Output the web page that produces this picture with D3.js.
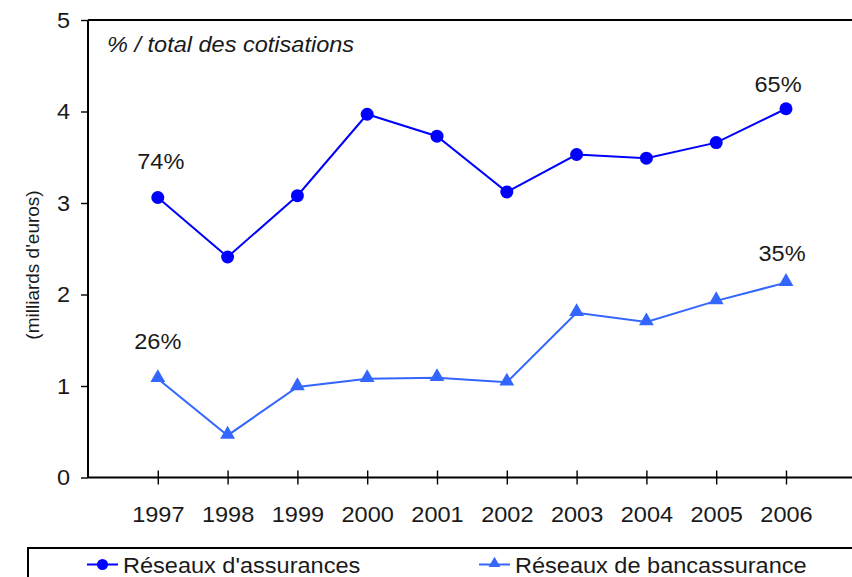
<!DOCTYPE html>
<html>
<head>
<meta charset="utf-8">
<script src="https://cdn.jsdelivr.net/npm/d3@7"></script>
<style>
  html, body { margin: 0; padding: 0; background: #fff; }
  svg { display: block; font-family: "Liberation Sans", Arial, sans-serif; }
</style>
</head>
<body>
<svg id="chart" width="852" height="577"></svg>
<script>
// Cotisations par réseau de distribution (milliards d'euros)
const years = [1997, 1998, 1999, 2000, 2001, 2002, 2003, 2004, 2005, 2006];
const assurances = [3.06, 2.41, 3.08, 3.97, 3.73, 3.12, 3.53, 3.49, 3.66, 4.03];
const bancassurance = [1.08, 0.46, 0.99, 1.08, 1.09, 1.04, 1.80, 1.70, 1.93, 2.13];
const yTicks = [0, 1, 2, 3, 4, 5];
const seriesNames = ["Réseaux d'assurances", "Réseaux de bancassurance"];
const shareLabels = [
  { series: 0, year: 1997, text: "74%" },
  { series: 0, year: 2006, text: "65%" },
  { series: 1, year: 1997, text: "26%" },
  { series: 1, year: 2006, text: "35%" }
];

const colors = ["#0000ff", "#3366ff"];
const seriesData = [assurances, bancassurance];
const stretch = 1.07;   // slightly widened lettering
const fs = 22;

const svg = d3.select("#chart");
const plotL = 88, plotT = 20, plotB = 477.5, plotR = 852;

const x = d3.scaleLinear().domain([1996, 2007]).range([plotL, plotL + 11 * 69.8]);
const y = d3.scaleLinear().domain([0, 5]).range([plotB, plotT]);

// Axes
const xAxis = d3.axisBottom(x).tickValues(years).tickSize(7).tickFormat(d3.format("d"));
const gx = svg.append("g").attr("transform", `translate(0,${plotB})`).call(xAxis);
gx.select(".domain").attr("d", `M${plotL},0H${plotR}`);
gx.selectAll(".tick line").attr("y1", -7).attr("y2", 7).attr("stroke", "#000").attr("stroke-width", 1.4);
gx.selectAll(".tick text").attr("y", 0).attr("dy", 0)
  .attr("transform", `translate(0,44) scale(${stretch},1)`)
  .attr("font-size", fs).attr("fill", "#1a1a1a");

const yAxis = d3.axisLeft(y).tickValues(yTicks).tickSize(7).tickFormat(d3.format("d"));
const gy = svg.append("g").attr("transform", `translate(${plotL},0)`).call(yAxis);
gy.select(".domain").attr("d", `M0,${plotB}V${plotT}`);
gy.selectAll(".tick line").attr("stroke", "#000").attr("stroke-width", 1.4);
gy.selectAll(".tick text").attr("x", 0)
  .attr("transform", `translate(-18,0) scale(${stretch},1)`)
  .attr("font-size", fs).attr("fill", "#1a1a1a");

[gx, gy].forEach(g => {
  g.attr("font-family", null);
  g.select(".domain").attr("stroke", "#000").attr("stroke-width", 2);
});

// Top frame line
svg.append("line").attr("x1", plotL).attr("x2", plotR).attr("y1", plotT).attr("y2", plotT)
  .attr("stroke", "#000").attr("stroke-width", 2);

// Y axis title
svg.append("text")
  .attr("transform", `translate(39,265) rotate(-90)`)
  .attr("text-anchor", "middle")
  .attr("font-size", 19).attr("fill", "#1a1a1a")
  .text("(milliards d'euros)");

// Subtitle inside the plot
svg.append("text")
  .attr("transform", `translate(107,52) scale(${stretch},1)`)
  .attr("font-size", fs).attr("font-style", "italic").attr("fill", "#1a1a1a")
  .text("% / total des cotisations");

const line = d3.line().x((d, i) => x(years[i])).y(d => y(d));
const tri = d3.symbol().type(d3.symbolTriangle).size(95);

seriesData.forEach((vals, s) => {
  svg.append("path").datum(vals)
    .attr("d", line).attr("fill", "none")
    .attr("stroke", colors[s]).attr("stroke-width", 2);
  if (s === 0) {
    svg.selectAll(null).data(vals).join("circle")
      .attr("cx", (d, i) => x(years[i])).attr("cy", d => y(d))
      .attr("r", 6.5).attr("fill", colors[s]);
  } else {
    svg.selectAll(null).data(vals).join("path")
      .attr("d", tri)
      .attr("transform", (d, i) => `translate(${x(years[i])},${y(d) - 1})`)
      .attr("fill", colors[s]);
  }
});

// Share labels near the first and last points
const labelOffset = { "74%": [3, -29], "65%": [-8, -17], "26%": [0, -30], "35%": [-4, -22] };
svg.selectAll(null).data(shareLabels).join("text")
  .attr("transform", d => {
    const px = x(d.year) + labelOffset[d.text][0];
    const py = y(seriesData[d.series][years.indexOf(d.year)]) + labelOffset[d.text][1];
    return `translate(${px},${py}) scale(${stretch},1)`;
  })
  .attr("text-anchor", "middle")
  .attr("font-size", fs).attr("fill", "#1a1a1a")
  .text(d => d.text);

// Legend
const lg = svg.append("g");
lg.append("rect").attr("x", 28).attr("y", 548).attr("width", 900).attr("height", 60)
  .attr("fill", "none").attr("stroke", "#000").attr("stroke-width", 2);
const legendItems = [
  { x: 87, name: seriesNames[0], s: 0 },
  { x: 479, name: seriesNames[1], s: 1 }
];
legendItems.forEach(it => {
  const g = lg.append("g").attr("transform", `translate(${it.x},564.5)`);
  g.append("line").attr("x1", 0).attr("x2", 31).attr("stroke", colors[it.s]).attr("stroke-width", 2);
  if (it.s === 0) {
    g.append("circle").attr("cx", 15.5).attr("r", 5.5).attr("fill", colors[it.s]);
  } else {
    g.append("path").attr("d", d3.symbol().type(d3.symbolTriangle).size(60)).attr("transform", "translate(15.5,-1)").attr("fill", colors[it.s]);
  }
  g.append("text").attr("transform", `translate(36,8) scale(${stretch},1)`)
    .attr("font-size", fs).attr("fill", "#1a1a1a").text(it.name);
});
</script>
</body>
</html>
